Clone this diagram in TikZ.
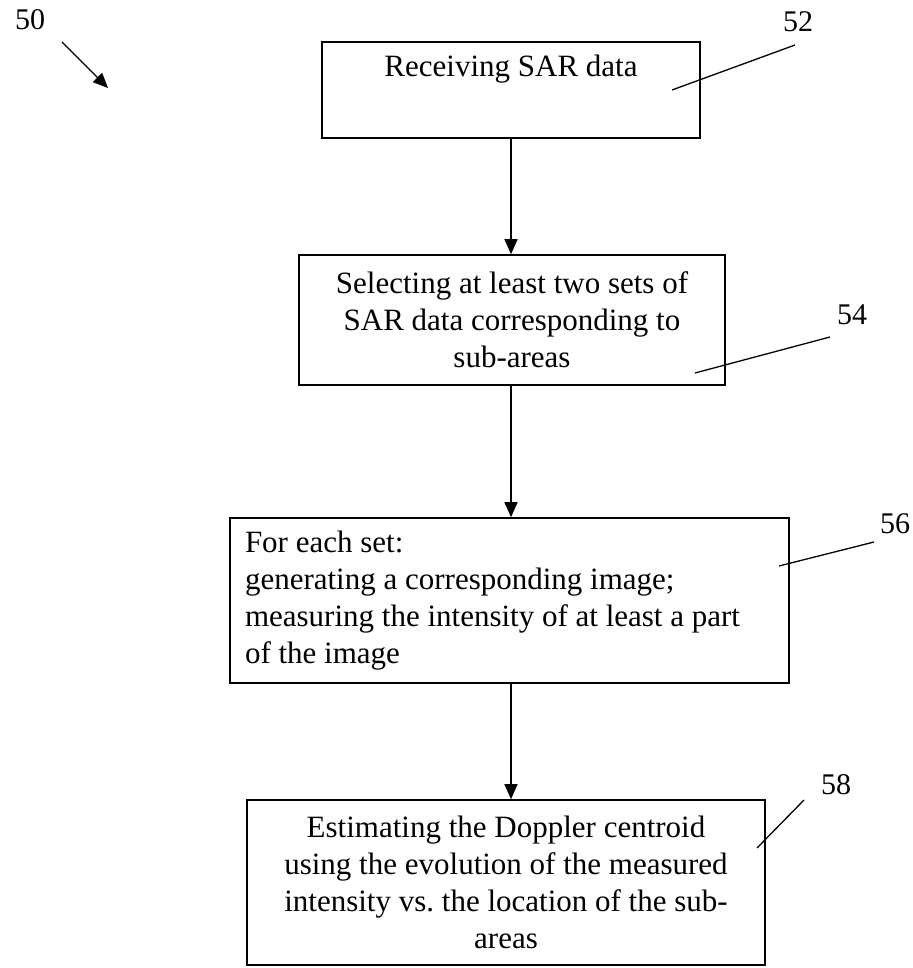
\documentclass[tikz,border=0pt]{standalone}
\usepackage{fontspec}
\setmainfont{Liberation Serif}
\usetikzlibrary{arrows.meta}
\tikzset{
  box/.style={draw, line width=1.6pt, inner sep=0pt, font=\fontsize{31}{37}\selectfont},
  lbl/.style={inner sep=0pt, font=\fontsize{30}{36}\selectfont},
  flow/.style={line width=1.3pt, -{Triangle[length=15pt,width=13pt]}},
  lead/.style={line width=1.3pt}
}
\begin{document}
\begin{tikzpicture}[x=1pt,y=-1pt]
\useasboundingbox (0,0) rectangle (912,968);
% boxes
\node[box, minimum width=378pt, minimum height=96pt, align=center] (b52) at (511,90)
  {Receiving SAR data\\\strut};
\node[box, minimum width=426pt, minimum height=130pt, align=center] (b54) at (512,320)
  {Selecting at least two sets of\\SAR data corresponding to\\sub-areas};
\node[box, minimum width=559pt, minimum height=165pt, align=flush left, text width=529pt] (b56) at (509.5,600.5)
  {For each set:\\generating a corresponding image;\\measuring the intensity of at least a part\\of the image};
\node[box, minimum width=518pt, minimum height=165pt, align=center] (b58) at (506,882.5)
  {Estimating the Doppler centroid\\using the evolution of the measured\\intensity vs.\ the location of the sub-\\areas};
% flow arrows
\draw[flow] (b52.south -| 511,0) -- (b54.north -| 511,0);
\draw[flow] (b54.south -| 511,0) -- (b56.north -| 511,0);
\draw[flow] (b56.south -| 511,0) -- (b58.north -| 511,0);
% reference labels
\node[lbl] (l50) at (30,20) {50};
\coordinate (a50s) at (62,42);
\coordinate (a50e) at (108,88);
\draw[flow] (a50s) -- (a50e);
\node[lbl] (l52) at (798,22) {52};
\coordinate (c52a) at (795,45);
\coordinate (c52b) at (672,90);
\draw[lead] (c52a) -- (c52b);
\node[lbl] (l54) at (852,315) {54};
\coordinate (c54a) at (830,337);
\coordinate (c54b) at (695,373);
\draw[lead] (c54a) -- (c54b);
\node[lbl] (l56) at (895,524) {56};
\coordinate (c56a) at (874,542);
\coordinate (c56b) at (779,566);
\draw[lead] (c56a) -- (c56b);
\node[lbl] (l58) at (836,785) {58};
\coordinate (c58a) at (804,800);
\coordinate (c58b) at (757,848);
\draw[lead] (c58a) -- (c58b);
\end{tikzpicture}
\end{document}
